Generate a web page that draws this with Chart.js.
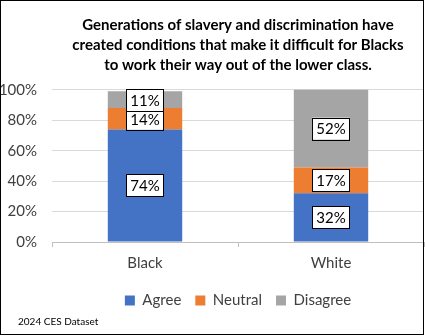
<!DOCTYPE html>
<html>
<head>
<meta charset="utf-8">
<script src="https://cdn.jsdelivr.net/npm/chart.js@4.4.1/dist/chart.umd.min.js"></script>
<style>
  html, body { margin: 0; padding: 0; background: #fff; }
  #wrap { position: relative; width: 425px; height: 336px; }
  #frame { position: absolute; left: 0; top: 0; width: 424px; height: 335px; border: 1px solid #000; box-sizing: border-box; pointer-events: none; }
</style>
</head>
<body>
<div id="wrap">
  <canvas id="chart" width="425" height="336"></canvas>
  <div id="frame"></div>
</div>
<script>
// categorias e valores
const categorias = ['Black', 'White'];
const agree = [74, 32];
const neutral = [14, 17];
const disagree = [11, 52];
const yTicks = [0, 20, 40, 60, 80, 100];

const titulo = [
    'Generations of slavery and discrimination have',
    'created conditions that make it difficult for Blacks',
    'to work their way out of the lower class.'
];
const fonte = '2024 CES Dataset';
const familia = 'Lato, "Open Sans", sans-serif';

// Rótulos em caixas brancas no meio de cada segmento
const rotulosPlugin = {
    id: 'rotulos',
    afterDatasetsDraw(chart) {
        const ctx = chart.ctx;
        ctx.save();
        ctx.font = '15px ' + familia;
        ctx.textAlign = 'center';
        ctx.textBaseline = 'middle';
        chart.data.datasets.forEach((ds, i) => {
            const meta = chart.getDatasetMeta(i);
            meta.data.forEach((bar, j) => {
                const top = Math.max(bar.y, chart.chartArea.top);
                const cy = (top + bar.base) / 2;
                const txt = ds.data[j] + '%';
                const w = ctx.measureText(txt).width + 8;
                const h = 22;
                ctx.fillStyle = '#fff';
                ctx.fillRect(bar.x - w / 2, cy - h / 2, w, h);
                ctx.strokeStyle = '#000';
                ctx.lineWidth = 1;
                ctx.strokeRect(Math.round(bar.x - w / 2) + 0.5, Math.round(cy - h / 2) + 0.5, Math.round(w), h);
                ctx.fillStyle = '#000';
                ctx.fillText(txt, bar.x, cy + 1);
            });
        });
        ctx.restore();
    }
};

// Nota de rodapé
const rodapePlugin = {
    id: 'rodape',
    afterDraw(chart) {
        const ctx = chart.ctx;
        ctx.save();
        ctx.font = '10px ' + familia;
        ctx.fillStyle = '#000';
        ctx.textBaseline = 'middle';
        ctx.fillText(fonte, 18, 322);
        ctx.restore();
    }
};

const grafico = new Chart(document.getElementById('chart').getContext('2d'), {
    type: 'bar',
    data: {
        labels: categorias,
        datasets: [
            { label: 'Agree', data: agree, backgroundColor: '#4472C4' },
            { label: 'Neutral', data: neutral, backgroundColor: '#ED7D31' },
            { label: 'Disagree', data: disagree, backgroundColor: '#A5A5A5' }
        ]
    },
    options: {
        responsive: false,
        animation: false,
        layout: { padding: { left: 0, right: 1, top: 2, bottom: 18 } },
        datasets: { bar: { categoryPercentage: 1, barPercentage: 0.4 } },
        plugins: {
            title: {
                display: true,
                text: titulo,
                fullSize: false,
                color: '#000',
                font: { family: familia, size: 15, weight: 'bold', lineHeight: 1.33 },
                padding: { top: 13, bottom: 15 }
            },
            legend: {
                position: 'bottom',
                fullSize: false,
                labels: {
                    color: '#404040',
                    font: { family: familia, size: 15 },
                    boxWidth: 10,
                    boxHeight: 10,
                    padding: 14
                }
            },
            tooltip: { enabled: false }
        },
        scales: {
            x: {
                stacked: true,
                grid: { drawOnChartArea: false, drawTicks: true, tickLength: 5, color: '#BFBFBF' },
                border: { color: '#BFBFBF' },
                ticks: { color: '#404040', font: { family: familia, size: 15 }, padding: 7 }
            },
            y: {
                stacked: true,
                min: 0,
                max: 100,
                afterFit(scale) { scale.width = 52; },
                afterBuildTicks(scale) { scale.ticks = yTicks.map(v => ({ value: v })); },
                grid: { color: '#D9D9D9', drawTicks: false },
                border: { display: false },
                ticks: {
                    color: '#404040',
                    font: { family: familia, size: 15 },
                    padding: 15,
                    callback: v => v + '%'
                }
            }
        }
    },
    plugins: [rotulosPlugin, rodapePlugin]
});
</script>
</body>
</html>
